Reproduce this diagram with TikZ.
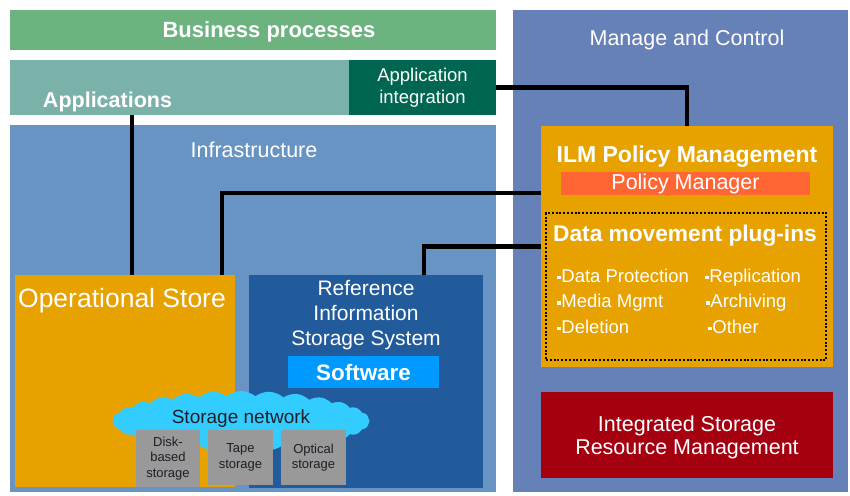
\documentclass[tikz,border=0pt]{standalone}
\usepackage{fontspec}
\setmainfont{Liberation Sans}
\usetikzlibrary{shapes.symbols}
%%
\definecolor{bizGreen}{RGB}{109,179,127}
\definecolor{appGreen}{RGB}{122,178,169}
\definecolor{intGreen}{RGB}{0,102,80}
\definecolor{infraBlue}{RGB}{104,148,196}
\definecolor{manageBlue}{RGB}{102,128,184}
\definecolor{ilmOrange}{RGB}{232,162,0}
\definecolor{polRed}{RGB}{255,102,51}
\definecolor{rissBlue}{RGB}{34,91,155}
\definecolor{softBlue}{RGB}{0,153,255}
\definecolor{cloudBlue}{RGB}{51,204,255}
\definecolor{diskGray}{RGB}{153,153,153}
\definecolor{isrmRed}{RGB}{165,0,16}
\definecolor{darkText}{RGB}{30,30,40}
%%
\newcommand{\sqbullet}{\rule[3pt]{3.4pt}{3.4pt}\hspace{0.8pt}}
%%
\begin{document}
\begin{tikzpicture}[x=1pt,y=-1pt,%%
  boxStyle/.style={draw=none,inner sep=0pt,outer sep=0pt,text=white,align=center},%%
  textStyle/.style={inner sep=0pt,text=white,align=center},%%
  grayStyle/.style={boxStyle,fill=diskGray,text=darkText,%%
    font=\fontsize{13}{15.5}\selectfont},%%
  wireStyle/.style={-,line width=4.4pt}%%
]
%%
\useasboundingbox (0,0) rectangle (850,495);
%%
%% Top layers.
\node[boxStyle,fill=bizGreen,minimum width=486pt,minimum height=40pt] (business) at (253,30) {};
\node[textStyle,font=\fontsize{22}{24}\selectfont\bfseries] (businessText) at (269,32) {Business processes};
\node[boxStyle,fill=appGreen,minimum width=486pt,minimum height=55pt] (apps) at (253,87.5) {};
\node[textStyle,font=\fontsize{21.5}{24}\selectfont\bfseries] (appsText) at (107.5,102) {Applications};
\node[boxStyle,fill=intGreen,minimum width=147pt,minimum height=55pt,%%
  font=\fontsize{18.5}{22}\selectfont] (appInt) at (422.5,87.5) {Application\\integration};
%%
%% Infrastructure.
\node[boxStyle,fill=infraBlue,minimum width=486pt,minimum height=367pt] (infra) at (253,308.5) {};
\node[textStyle,font=\fontsize{21.5}{22}\selectfont] (infraText) at (254,150) {Infrastructure};
\node[boxStyle,fill=ilmOrange,minimum width=220pt,minimum height=212pt] (opStore) at (125,381) {};
\node[textStyle,font=\fontsize{26.5}{28}\selectfont] (opStoreText) at (122,301) {Operational Store};
\node[boxStyle,fill=rissBlue,minimum width=234pt,minimum height=213pt] (riss) at (366,381.5) {};
\node[textStyle,font=\fontsize{21}{25}\selectfont] (rissText) at (366,315)
  {Reference\\Information\\Storage System};
\node[boxStyle,fill=softBlue,minimum width=151pt,minimum height=32pt,%%
  font=\fontsize{22.4}{24}\selectfont\bfseries] (software) at (363.5,372) {Software};
%%
%% Storage network and devices.
\node[cloud,cloud puffs=28,cloud puff arc=80,aspect=4.6,fill=cloudBlue,draw=none,%%
  minimum width=257pt,minimum height=60pt,inner sep=0pt,text=darkText,%%
  font=\fontsize{19}{20}\selectfont] (storageNet) at (241,421)
  {\raisebox{8pt}{Storage network}};
\node[grayStyle,minimum width=64pt,minimum height=57pt] (disk) at (168,458.5) {Disk-\\based\\storage};
\node[grayStyle,minimum width=65pt,minimum height=55pt] (tape) at (240.5,457.5) {Tape\\storage};
\node[grayStyle,minimum width=65pt,minimum height=55pt] (optical) at (313.5,457.5) {Optical\\storage};
%%
%% Manage and Control.
\node[boxStyle,fill=manageBlue,minimum width=335pt,minimum height=482pt] (manage) at (680.5,251) {};
\node[textStyle,font=\fontsize{21.5}{22}\selectfont] (manageText) at (687,40) {Manage and Control};
\node[boxStyle,fill=ilmOrange,minimum width=292pt,minimum height=241pt] (ilm) at (687,246.5) {};
\node[textStyle,font=\fontsize{23}{24}\selectfont\bfseries] (ilmText) at (687,157) {ILM Policy Management};
\node[boxStyle,fill=polRed,minimum width=249pt,minimum height=23pt,%%
  font=\fontsize{21.5}{22}\selectfont] (polMgr) at (685.5,183.5) {\raisebox{-1pt}{Policy Manager}};
\node[boxStyle,draw=black,line width=2pt,dash pattern=on 2pt off 1.8pt,%%
  minimum width=280pt,minimum height=147pt] (plugins) at (686,286.5) {};
\node[textStyle,font=\fontsize{22.7}{24}\selectfont\bfseries] (pluginsText) at (685,236) {Data movement plug-ins};
\node[textStyle,align=left,anchor=west,font=\fontsize{18.5}{25.5}\selectfont] (pluginsLeft) at (557,301)
  {\sqbullet Data Protection\\\sqbullet Media Mgmt\\\sqbullet Deletion};
\node[textStyle,align=left,anchor=west,font=\fontsize{18.5}{25.5}\selectfont] (pluginsRight) at (705,301)
  {\sqbullet Replication\\\hspace{1pt}\sqbullet Archiving\\\hspace{3pt}\sqbullet Other};
\node[boxStyle,fill=isrmRed,minimum width=292pt,minimum height=86pt] (isrm) at (687,435) {};
\node[textStyle,font=\fontsize{21.5}{23}\selectfont] (isrmText) at (687,437) {Integrated Storage\\Resource Management};
%%
%% Connectors.
\coordinate (appsDrop) at (132,115);
\coordinate (opsRise) at (222,275);
\coordinate (rissRise) at (424,275);
\coordinate (ilmIn) at (541,193);
\draw[wireStyle] (appsDrop) -- (appsDrop |- opStore.north);
\draw[wireStyle] (opsRise) |- (ilmIn);
\draw[wireStyle] (rissRise) |- (ilm.west);
\draw[wireStyle] (appInt.east) -| (ilm.north);
\end{tikzpicture}
\end{document}
